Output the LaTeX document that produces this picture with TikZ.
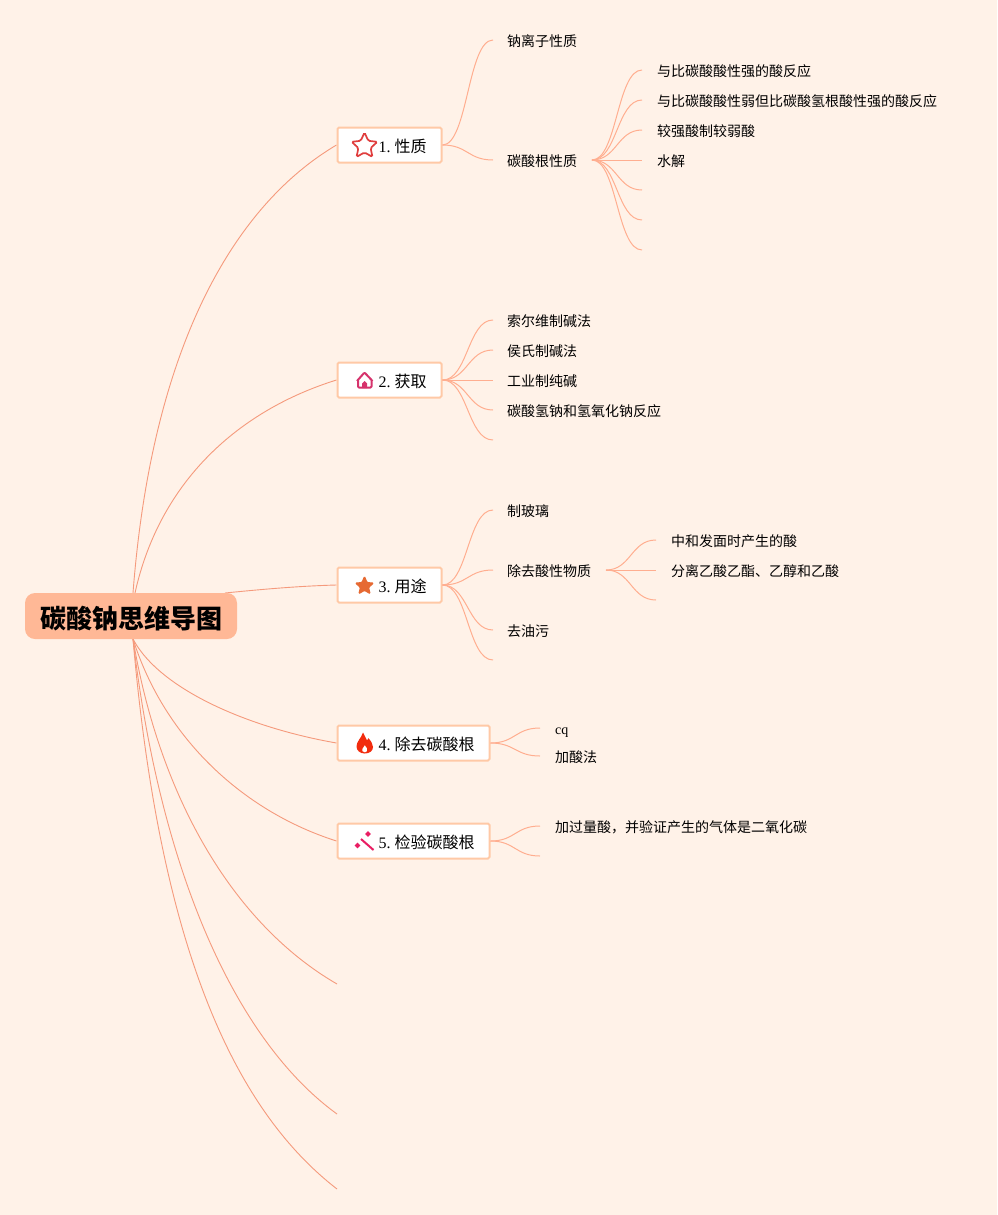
\documentclass[tikz,border=0pt]{standalone}
\usepackage{fontspec}
\setmainfont{Liberation Serif}
\newfontfamily\cjk{Noto Sans CJK SC}
\usetikzlibrary{calc,shapes.geometric,backgrounds}
\definecolor{bgc}{HTML}{FFF2E8}
\definecolor{rootc}{HTML}{FFB896}
\definecolor{boxc}{HTML}{FFC9A6}
\definecolor{linkA}{HTML}{F59A7C}
\definecolor{linkB}{HTML}{FFAE90}
\definecolor{icred}{HTML}{E03E3E}
\definecolor{ichouse}{HTML}{D6336C}
\definecolor{icorange}{HTML}{E66932}
\definecolor{icflame}{HTML}{F22C0E}
\definecolor{icpink}{HTML}{E91E63}
\tikzset{
  lka/.style={draw=linkA,line width=0.9pt},
  lkb/.style={draw=linkB,line width=1pt},
  rootbox/.style={fill=rootc,rounded corners=10pt,minimum width=212pt,minimum height=46pt,inner sep=0pt,text height=26pt,text depth=2pt,font=\cjk\bfseries\fontsize{26}{26}\selectfont},
  topicbox/.style={draw=boxc,fill=white,line width=2pt,rounded corners=1.5pt,minimum height=35pt,inner ysep=0pt,inner xsep=15pt,align=right,text height=16pt,text depth=2pt,font=\fontsize{16}{18}\selectfont},
  leaf/.style={anchor=west,inner sep=0pt,font=\cjk\fontsize{14}{16}\selectfont},
}
\newcommand{\sbr}[2]{\draw[lkb] (#1) .. controls ($(#1)!0.5!(#2 |- #1)$) and ($(#2)!0.5!(#1 |- #2)$) .. (#2);}
\newcommand{\ttl}[2]{#1.\hspace{4pt}{\cjk #2}}
\begin{document}
\begin{tikzpicture}[x=1pt,y=-1pt]
\useasboundingbox (0,0) rectangle (997,1215);
\node[rootbox] (root) at (131,616) {碳酸钠思维导图};
\node[topicbox,text width=74pt] (t1) at (389.5,145) {\ttl{1}{性质}};
\node[topicbox,text width=74pt] (t2) at (389.5,380) {\ttl{2}{获取}};
\node[topicbox,text width=74pt] (t3) at (389.5,585) {\ttl{3}{用途}};
\node[topicbox,text width=122pt] (t4) at (413.5,743) {\ttl{4}{除去碳酸根}};
\node[topicbox,text width=122pt] (t5) at (413.5,841) {\ttl{5}{检验碳酸根}};
\coordinate (rt) at (133,593);
\coordinate (rt2) at (135,593);
\coordinate (rr) at (225,593);
\coordinate (rb) at (133,639);
\coordinate (e6) at (337,984);
\coordinate (e7) at (337,1114);
\coordinate (e8) at (337,1189);
\begin{scope}[on background layer]
\fill[bgc] (0,0) rectangle (997,1215);
\draw[lka] (rt) .. controls (152,345) and (235,205) .. (t1.west);
\draw[lka] (rt2) .. controls (160,480) and (240,410) .. (t2.west);
\draw[lka] (rr) .. controls (265,589) and (300,586) .. (t3.west);
\draw[lka] (rb) .. controls (160,690) and (250,728) .. (t4.west);
\draw[lka] (rb) .. controls (165,740) and (245,812) .. (t5.west);
\draw[lka] (rb) .. controls (160,800) and (235,925) .. (e6);
\draw[lka] (rb) .. controls (160,870) and (235,1040) .. (e7);
\draw[lka] (rb) .. controls (160,950) and (235,1110) .. (e8);
\end{scope}
% leaves
\node[leaf] (a1) at (507,41) {钠离子性质};
\node[leaf] (a2) at (507,161) {碳酸根性质};
\node[leaf] (a21) at (657,71) {与比碳酸酸性强的酸反应};
\node[leaf] (a22) at (657,101) {与比碳酸酸性弱但比碳酸氢根酸性强的酸反应};
\node[leaf] (a23) at (657,131) {较强酸制较弱酸};
\node[leaf] (a24) at (657,161) {水解};
\node[leaf] (b1) at (507,321) {索尔维制碱法};
\node[leaf] (b2) at (507,351) {侯氏制碱法};
\node[leaf] (b3) at (507,381) {工业制纯碱};
\node[leaf] (b4) at (507,411) {碳酸氢钠和氢氧化钠反应};
\node[leaf] (c1) at (507,511) {制玻璃};
\node[leaf] (c2) at (507,571) {除去酸性物质};
\node[leaf] (c3) at (507,631) {去油污};
\node[leaf] (c21) at (671,541) {中和发面时产生的酸};
\node[leaf] (c22) at (671,571) {分离乙酸乙酯、乙醇和乙酸};
\node[leaf,font=\fontsize{14}{16}\selectfont] (d1) at (555,732.5) {cq};
\node[leaf] (d2) at (555,757) {加酸法};
\node[leaf] (f1) at (555,827) {加过量酸，并验证产生的气体是二氧化碳};
% branch end points
\coordinate (pa1) at (493,40);
\coordinate (pa2) at (493,160);
\coordinate (sa) at (592,160);
\foreach \n/\y in {1/70,2/100,3/130,4/160,5/190,6/220,7/250}{
  \coordinate (qa\n) at (642,\y);
  \sbr{sa}{qa\n}
}
\sbr{t1.east}{pa1}
\sbr{t1.east}{pa2}
\foreach \n/\y in {1/320,2/350,3/380,4/410,5/440}{
  \coordinate (pb\n) at (493,\y);
  \sbr{t2.east}{pb\n}
}
\foreach \n/\y in {1/510,2/570,3/630,4/660}{
  \coordinate (pc\n) at (493,\y);
  \sbr{t3.east}{pc\n}
}
\coordinate (sc) at (606,570);
\foreach \n/\y in {1/540,2/570,3/600}{
  \coordinate (qc\n) at (656,\y);
  \sbr{sc}{qc\n}
}
\coordinate (pd1) at (540,728);
\coordinate (pd2) at (540,756);
\sbr{t4.east}{pd1}
\sbr{t4.east}{pd2}
\coordinate (pf1) at (540,826);
\coordinate (pf2) at (540,856);
\sbr{t5.east}{pf1}
\sbr{t5.east}{pf2}
% icons
\node[star,star points=5,star point ratio=2.1,draw=icred,line width=1.7pt,rounded corners=1.5pt,fill=white,inner sep=0pt,minimum size=27pt] (i1) at (364.5,146) {};
\draw[draw=ichouse,line width=2pt,line join=round,rounded corners=1pt] (357,381) -- (364.5,372.5) -- (372.5,381) (358,380) -- (358,387.5) -- (371.5,387.5) -- (371.5,380);
\fill[ichouse] (362,388) -- (362,383.5) -- (364.5,381) -- (367,383.5) -- (367,388) -- cycle;
\node[star,star points=5,star point ratio=2.2,fill=icorange,draw=icorange,line width=1pt,rounded corners=1pt,inner sep=0pt,minimum size=19pt] (i3) at (364.5,586) {};
\fill[icflame,even odd rule] (363,732.5) .. controls (364.5,736) and (366,737.5) .. (367,740.5) .. controls (367.8,739.8) and (368.2,739) .. (368.4,738.2) .. controls (371,741) and (373,744) .. (373,747) .. controls (373,751) and (369.5,753.5) .. (364.8,753.5) .. controls (360,753.5) and (356.5,750.5) .. (356.5,746.5) .. controls (356.5,741.5) and (361,738.5) .. (363,732.5) -- cycle
 (364.8,752.5) .. controls (362.5,752.5) and (361.5,750.5) .. (362.5,748.5) .. controls (363.2,747.2) and (364.2,746.5) .. (364.8,745) .. controls (365.5,746.5) and (366.5,747.2) .. (367.2,748.5) .. controls (368,750.5) and (367,752.5) .. (364.8,752.5) -- cycle;
\draw[draw=icpink,line width=2pt] (361,839) -- (373.5,850);
\foreach \x/\y/\r in {368/834/2.8,357.5/845.5/2.8}{
  \fill[icpink] (\x-\r,\y) -- (\x,\y-\r) -- (\x+\r,\y) -- (\x,\y+\r) -- cycle;
}
\end{tikzpicture}
\end{document}
